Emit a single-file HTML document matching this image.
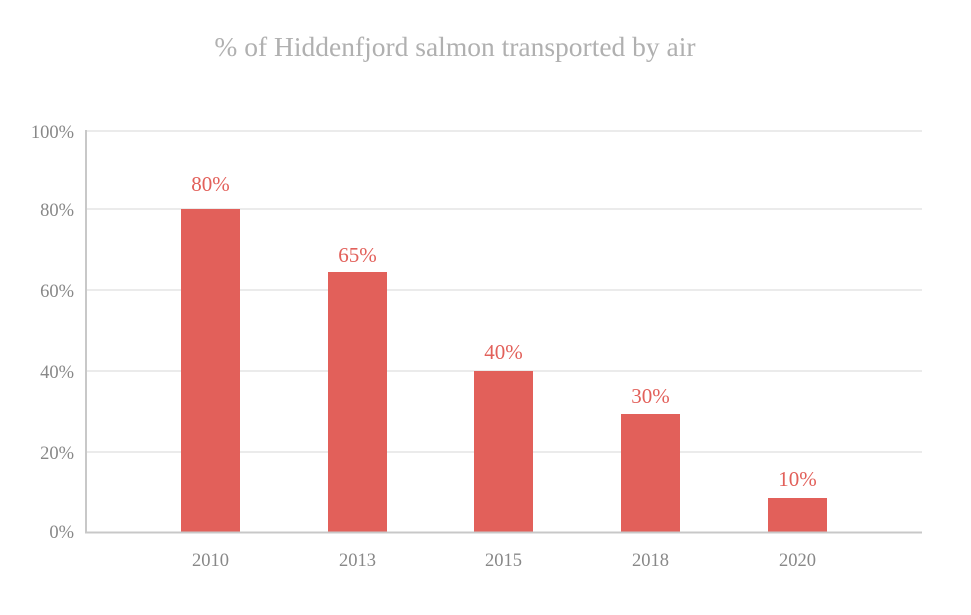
<!DOCTYPE html>
<html><head><style>
body{margin:0;background:#fff;}
svg text{font-family:"Liberation Serif",serif;}
</style></head><body>
<svg width="971" height="610" xmlns="http://www.w3.org/2000/svg">
<text x="455" y="56" font-size="27.5" fill="#b0b0b0" text-anchor="middle">% of Hiddenfjord salmon transported by air</text>
<g stroke="#ebebeb" stroke-width="2">
<line x1="86" x2="922" y1="131" y2="131"/>
<line x1="86" x2="922" y1="209" y2="209"/>
<line x1="86" x2="922" y1="290" y2="290"/>
<line x1="86" x2="922" y1="371" y2="371"/>
<line x1="86" x2="922" y1="452" y2="452"/>
</g>
<g font-size="18.5" fill="#888" text-anchor="end">
<text x="74" y="138">100%</text>
<text x="74" y="216">80%</text>
<text x="74" y="297">60%</text>
<text x="74" y="378">40%</text>
<text x="74" y="459">20%</text>
<text x="74" y="538">0%</text>
</g>
<g fill="#e2605a">
<rect x="181" y="209" width="59" height="323"/>
<rect x="328" y="272" width="59" height="260"/>
<rect x="474" y="371" width="59" height="161"/>
<rect x="621" y="414" width="59" height="118"/>
<rect x="768" y="498" width="59" height="34"/>
</g>
<g font-size="21" fill="#e2605a" text-anchor="middle">
<text x="210.5" y="191">80%</text>
<text x="357.5" y="262">65%</text>
<text x="503.5" y="359">40%</text>
<text x="650.5" y="403">30%</text>
<text x="797.5" y="486">10%</text>
</g>
<line x1="86" x2="86" y1="130" y2="533" stroke="#c8c8c8" stroke-width="2"/>
<line x1="85" x2="922" y1="532.5" y2="532.5" stroke="#c8c8c8" stroke-width="2"/>
<g font-size="18.5" fill="#888" text-anchor="middle">
<text x="210.5" y="566">2010</text>
<text x="357.5" y="566">2013</text>
<text x="503.5" y="566">2015</text>
<text x="650.5" y="566">2018</text>
<text x="797.5" y="566">2020</text>
</g>
</svg>
</body></html>
